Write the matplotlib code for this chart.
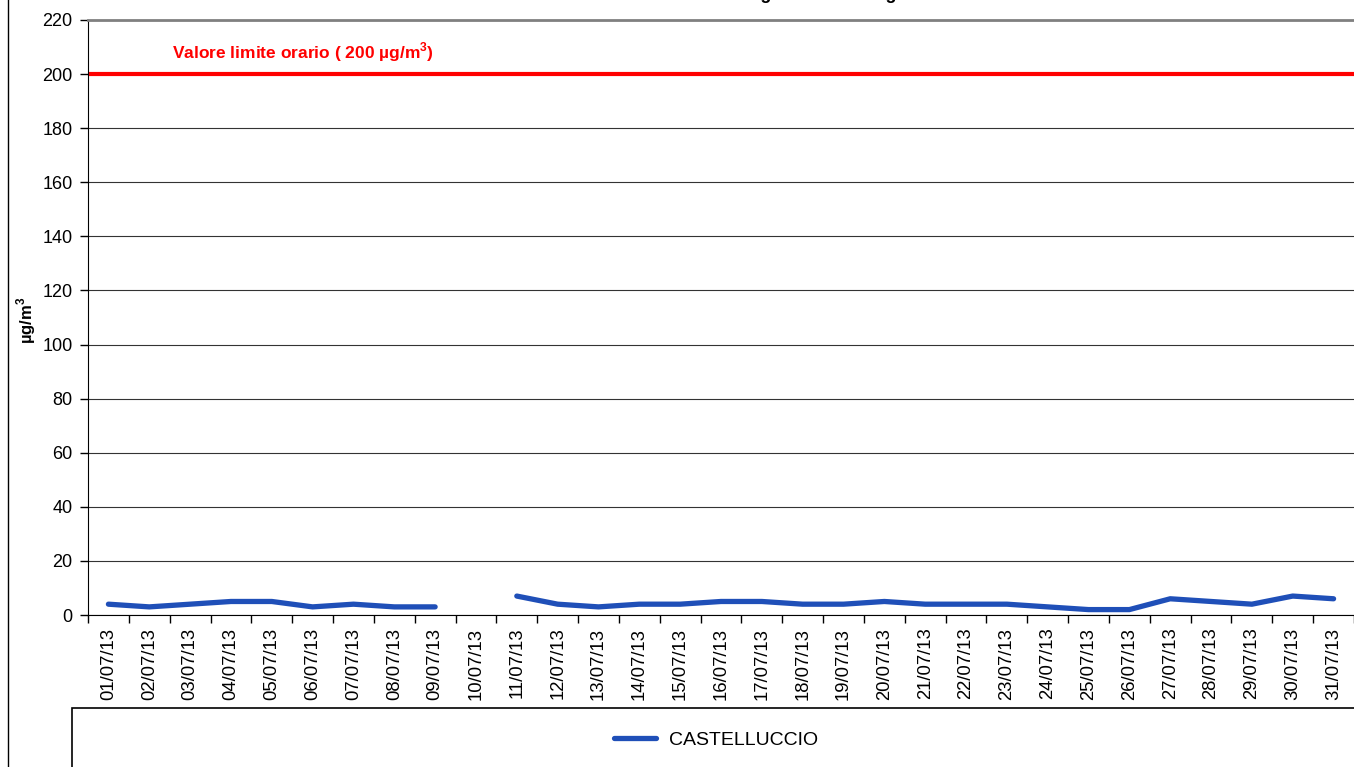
import numpy as np
import matplotlib
matplotlib.use("Agg")
import matplotlib.pyplot as plt
from matplotlib.lines import Line2D
from matplotlib.patches import Rectangle

plt.rcParams['font.family'] = ['Liberation Sans', 'DejaVu Sans']
plt.rcParams['mathtext.fontset'] = 'custom'
plt.rcParams['mathtext.rm'] = 'Liberation Sans'
plt.rcParams['mathtext.bf'] = 'Liberation Sans:bold'

# dati - massimi orari giornalieri, luglio 2013
giorni = ['%02d/07/13' % d for d in range(1, 32)]
castelluccio = [4, 3, 4, 5, 5, 3, 4, 3, 3, np.nan, 7, 4, 3, 4, 4, 5, 5, 4, 4, 5,
                4, 4, 4, 3, 2, 2, 6, 5, 4, 7, 6]
limite = 200
yticks = list(range(0, 221, 20))

W, H = 1354, 767
fig = plt.figure(figsize=(W / 100, H / 100), dpi=100)
ax = fig.add_axes([88 / W, 1 - 615 / H, (W - 88) / W, (615 - 20) / H])

x = np.arange(len(giorni))
ax.plot(x, castelluccio, color='#1f4fb8', lw=3.8, solid_capstyle='round',
        solid_joinstyle='round', label='CASTELLUCCIO', zorder=3)
ax.axhline(limite, color='#ff0000', lw=3, zorder=2)
ax.text(1.55, 208, r'Valore limite orario ( 200 µg/m$^{\mathbf{3}}$)', color='#ff0000',
        fontsize=12.5, fontweight='bold', va='center')

ax.set_xlim(-0.5, len(giorni) - 0.5)
ax.set_ylim(0, 220)
ax.set_yticks(yticks)
ax.grid(axis='y', color='#333333', lw=0.8)
ax.set_axisbelow(True)

# tacche tra le categorie, etichette al centro
ax.set_xticks(np.arange(-0.5, len(giorni)))
ax.set_xticklabels([])
ax.set_xticks(x, minor=True)
ax.set_xticklabels(giorni, minor=True, rotation=90, fontsize=13.3)
ax.tick_params(axis='x', which='minor', length=0, pad=9)
ax.tick_params(axis='x', which='major', length=6, width=1)
ax.tick_params(axis='y', length=6, width=1, labelsize=13, pad=5)

ax.spines['right'].set_visible(False)
ax.spines['top'].set_color('#808080')
ax.spines['top'].set_linewidth(2)

fig.text(26 / W, 1 - 320 / H, r'µg/m$^{\mathbf{3}}$', rotation=90, fontsize=12,
         fontweight='bold', ha='center', va='center')

# titolo tagliato in alto
fig.text(0.53, 1 + 1 / H, 'Biossido di azoto - massimi orari giornalieri - Luglio 2013',
         fontsize=13, fontweight='bold', ha='center', va='baseline')

# bordo del grafico e riquadro legenda
fig.add_artist(Line2D([8 / W, 8 / W], [0, 1], transform=fig.transFigure, color='black', lw=1))
fig.add_artist(Rectangle((72 / W, -0.01), 1, (767 - 708) / H + 0.01, transform=fig.transFigure,
                         fill=False, ec='black', lw=1.2))
fig.legend(loc='center', bbox_to_anchor=(716 / W, 1 - 740 / H), frameon=False,
           fontsize=14, handlelength=2.15, handletextpad=0.7)

fig.savefig('out.png', dpi=100)
